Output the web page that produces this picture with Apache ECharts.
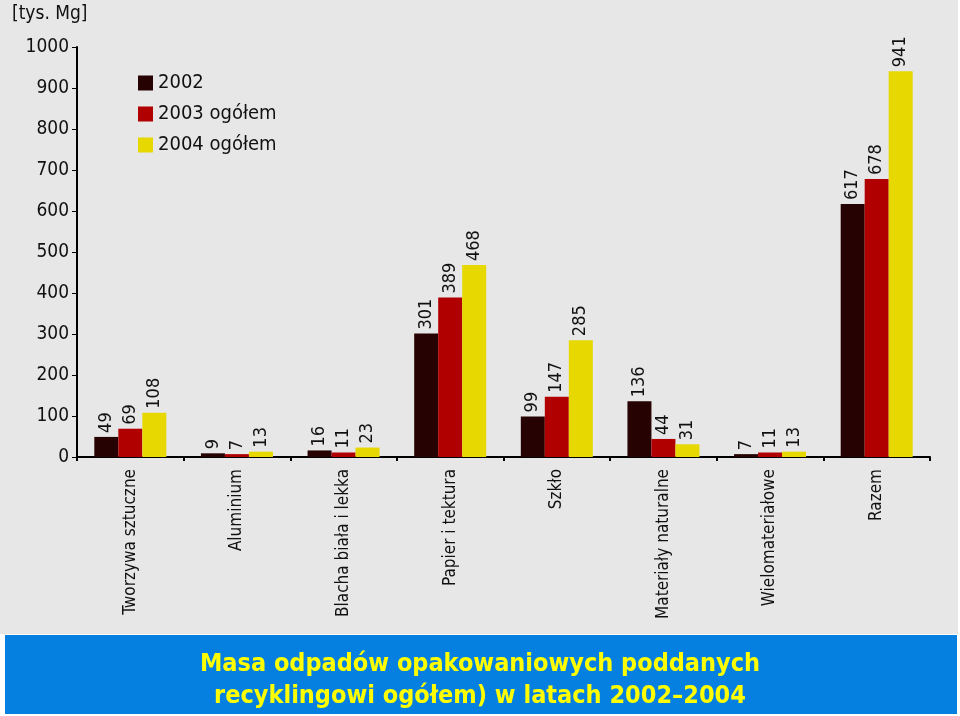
<!DOCTYPE html>
<html><head><meta charset="utf-8">
<script src="https://cdn.jsdelivr.net/npm/echarts@6/dist/echarts.min.js"></script>
<style>html,body{margin:0;padding:0;background:#fff}#c{width:960px;height:716px}</style>
</head><body><div id="c"></div>
<script>
const categories = ['Tworzywa sztuczne','Aluminium','Blacha biała i lekka','Papier i tektura','Szkło','Materiały naturalne','Wielomateriałowe','Razem'];
const seriesNames = ['2002','2003 ogółem','2004 ogółem'];
const v2002 = [49, 9, 16, 301, 99, 136, 7, 617];
const v2003 = [69, 7, 11, 389, 147, 44, 11, 678];
const v2004 = [108, 13, 23, 468, 285, 31, 13, 941];
const yTicks = [0,100,200,300,400,500,600,700,800,900,1000];
const unitLabel = '[tys. Mg]';
const titleLines = ['Masa odpadów opakowaniowych poddanych', 'recyklingowi ogółem) w latach 2002–2004'];

const FONT = '"Liberation Sans Narrow","DejaVu Sans Condensed",sans-serif';
const colors = ['#260202','#b00000','#e6d800'];
const chart = echarts.init(document.getElementById('c'));
const vals = [v2002, v2003, v2004];
chart.setOption({
  animation: false,
  backgroundColor: '#ffffff',
  graphic: [
    {type:'rect', z:-10, shape:{x:0,y:0,width:958,height:634}, style:{fill:'#e7e7e7'}},
    {type:'rect', z:-10, shape:{x:5,y:635,width:952,height:79}, style:{fill:'#0680e0'}},
    {type:'text', left:'center', top:648, style:{text: titleLines.join('\n'), fill:'#ffff00', font:'bold 25px ' + FONT, textAlign:'center', lineHeight:32}},
    {type:'text', left:12, top:5, style:{text: unitLabel, fill:'#111', font:'19px ' + FONT}}
  ],
  legend: {
    data: seriesNames, orient:'vertical', left:133, top:68, itemGap:11, itemWidth:15, itemHeight:15,
    icon:'rect', textStyle:{fontFamily:FONT, fontSize:20, color:'#111'}
  },
  grid: {left:77, right:30, top:47, bottom:259, containLabel:false},
  xAxis: {
    type:'category', data: categories,
    axisLine:{lineStyle:{color:'#000', width:2}},
    axisTick:{show:true, length:4, lineStyle:{color:'#000', width:2}},
    axisLabel:{rotate:90, interval:0, fontFamily:FONT, fontSize:17, color:'#111', margin:12}
  },
  yAxis: {
    type:'value', min:0, max:1000, interval:100,
    axisLine:{show:true, lineStyle:{color:'#000', width:2}},
    axisTick:{show:true, length:5, lineStyle:{color:'#000', width:1}},
    splitLine:{show:false},
    axisLabel:{fontFamily:FONT, fontSize:19, color:'#111', margin:8,
      formatter: v => yTicks.includes(v) ? String(v) : ''}
  },
  series: seriesNames.map((n,i)=>({
    name:n, type:'bar', data: vals[i], barWidth:24, barGap:'0%',
    itemStyle:{color:colors[i]},
    label:{show:true, position:'top', rotate:90, align:'left', verticalAlign:'middle', distance:4,
      fontFamily:FONT, fontSize:18, color:'#111'}
  }))
});
</script></body></html>
